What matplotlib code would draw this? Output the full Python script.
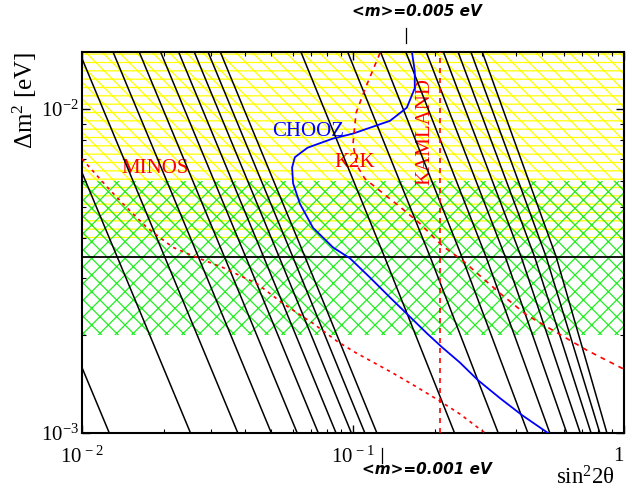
import matplotlib
matplotlib.use('Agg')
import matplotlib.pyplot as plt
from matplotlib.ticker import NullFormatter

plt.rcParams['font.family'] = ['Liberation Serif', 'DejaVu Serif']
plt.rcParams['mathtext.fontset'] = 'custom'
plt.rcParams['mathtext.rm'] = 'Liberation Serif'
plt.rcParams['mathtext.it'] = 'Liberation Serif:italic'
plt.rcParams['mathtext.bf'] = 'Liberation Serif:bold'
plt.rcParams['hatch.linewidth'] = 0.9

# iso-<m> lines (1e-4 ... 1e-3 eV, then 2e-3 ... 1e-2 eV),
# sin^2 2theta read where each line crosses the three dm2 levels
dm2_levels = [1.5e-2, 3.5e-3, 1.0e-3]
iso_s_top = [0.00326, 0.00652, 0.00977, 0.01302, 0.01626, 0.01950, 0.02273, 0.02596,
             0.02918, 0.03239, 0.06425, 0.09558, 0.12637, 0.15663, 0.18636, 0.21555,
             0.24421, 0.27234, 0.29993]
iso_s_mid = [0.00675, 0.01348, 0.02018, 0.02686, 0.03352, 0.04016, 0.04677, 0.05336,
             0.05993, 0.06647, 0.13066, 0.19255, 0.25217, 0.30950, 0.36453, 0.41729,
             0.46776, 0.51595, 0.56184]
iso_s_bot = [0.01261, 0.02514, 0.03759, 0.04996, 0.06225, 0.07446, 0.08658, 0.09863,
             0.11060, 0.12249, 0.23698, 0.34347, 0.44196, 0.53246, 0.61495, 0.68944,
             0.75593, 0.81442, 0.86491]

# CHOOZ exclusion contour
chooz_s = [0.165, 0.169, 0.169, 0.158, 0.137, 0.100, 0.084, 0.068, 0.061, 0.0596,
           0.0601, 0.0637, 0.0712, 0.0844, 0.0975, 0.1155, 0.137, 0.160, 0.1875,
           0.213, 0.248, 0.289, 0.349, 0.420, 0.524]
chooz_dm2 = [0.015, 0.0131, 0.0116, 0.0101, 0.0092, 0.0084, 0.0081, 0.0076, 0.0071,
             0.0066, 0.0059, 0.0051, 0.0043, 0.00374, 0.00346, 0.00302, 0.00262,
             0.00231, 0.00203, 0.00184, 0.00165, 0.001456, 0.00128, 0.001136, 0.001]

# K2K sensitivity
k2k_s = [0.1258, 0.1107, 0.1026, 0.100, 0.1035, 0.1107, 0.1258, 0.1491, 0.1767,
         0.2131, 0.2546, 0.2992, 0.3486, 0.4386, 0.547, 0.7302, 0.983, 1.0]
k2k_dm2 = [0.0149, 0.01152, 0.00972, 0.0078, 0.00668, 0.00609, 0.00559, 0.00499,
           0.00443, 0.00379, 0.00340, 0.00302, 0.0027, 0.00231, 0.002074, 0.0018,
           0.001585, 0.00158]

# MINOS sensitivity
minos_s = [0.010, 0.01247, 0.01417, 0.01738, 0.02167, 0.02657, 0.03314, 0.04423,
           0.05516, 0.0712, 0.0873, 0.1017, 0.1405, 0.1722, 0.2094, 0.2482, 0.307]
minos_dm2 = [0.00702, 0.00571, 0.0051, 0.0043, 0.00374, 0.00348, 0.00324, 0.00289,
             0.00251, 0.00218, 0.00192, 0.001775, 0.00153, 0.001385, 0.001254,
             0.001144, 0.001]

# KamLAND sensitivity (vertical)
kamland_s = 0.209

# allowed bands
atm_band = [2.0e-3, 6.0e-3]      # green
yellow_band = [4.0e-3, 2.0e-2]   # yellow
best_fit_dm2 = 3.5e-3

x_ticks = [0.01, 0.1, 1.0]
x_ticklabels = [r'$10^{\,-2}$', r'$10^{\,-1}$', '1']
y_ticks = [1e-3, 1e-2]
y_ticklabels = [r'$10^{-3}$', r'$10^{-2}$']

fig = plt.figure(figsize=(6.26, 4.94), dpi=100)
ax = fig.add_axes([0.131, 0.1235, 0.8658, 0.7712])
ax.set_xscale('log')
ax.set_yscale('log')
ax.set_xlim(0.01, 1.0)
ax.set_ylim(1e-3, 1.5e-2)

# hatched bands
ax.axhspan(yellow_band[0], yellow_band[1], facecolor='none', edgecolor='#ffff00',
           hatch='--\\\\', linewidth=0, zorder=1)
ax.axhspan(atm_band[0], atm_band[1], facecolor='none', edgecolor='#22ee22',
           hatch='xx', linewidth=0, zorder=2)
ax.axhline(best_fit_dm2, color='black', lw=1.3, zorder=3)

for st, sm, sb in zip(iso_s_top, iso_s_mid, iso_s_bot):
    ax.plot([st, sm, sb], dm2_levels, color='black', lw=1.1, zorder=4)

ax.plot(chooz_s, chooz_dm2, color='#0000ff', lw=1.3, zorder=5)
ax.plot(k2k_s, k2k_dm2, color='#ff0000', lw=1.2, ls=(0, (3, 3)), zorder=5)
ax.plot(minos_s, minos_dm2, color='#ff0000', lw=1.2, ls=(0, (2, 2.5)), zorder=5)
ax.axvline(kamland_s, color='#ff0000', lw=1.2, ls=(0, (3, 3)), zorder=5)

ax.text(0.0186, 0.00654, 'MINOS', color='#ff0000', fontsize=15, ha='center', va='center')
ax.text(0.0682, 0.00855, 'CHOOZ', color='#0000ff', fontsize=15, ha='center', va='center')
ax.text(0.1017, 0.00682, 'K2K', color='#ff0000', fontsize=15, ha='center', va='center')
ax.text(0.1844, 0.00855, 'KAMLAND', color='#ff0000', fontsize=15, ha='center',
        va='center', rotation=90)

# <m> markers outside the frame
ax.plot([0.157, 0.157], [1.024, 1.063], color='black', lw=0.9,
        transform=ax.get_xaxis_transform(), clip_on=False)
ax.plot([0.128, 0.128], [-0.039, -0.079], color='black', lw=0.9,
        transform=ax.get_xaxis_transform(), clip_on=False)
fig.text(0.666, 0.976, '<m>=0.005 eV', family='DejaVu Sans', fontweight='bold',
         fontstyle='italic', fontsize=11, ha='center', va='center')
fig.text(0.682, 0.0486, '<m>=0.001 eV', family='DejaVu Sans', fontweight='bold',
         fontstyle='italic', fontsize=11, ha='center', va='center')

ax.set_xticks(x_ticks, x_ticklabels)
ax.set_yticks(y_ticks, y_ticklabels)
ax.xaxis.set_minor_formatter(NullFormatter())
ax.yaxis.set_minor_formatter(NullFormatter())
ax.tick_params(which='both', direction='in', top=True, right=True, labelsize=15)
ax.tick_params(which='major', length=6, width=1)
ax.tick_params(which='minor', length=3, width=0.8)
ax.tick_params(axis='x', pad=10)
ax.tick_params(axis='y', pad=2)
ax.get_xticklabels()[-1].set_horizontalalignment('right')
for sp in ax.spines.values():
    sp.set_linewidth(1.5)

ax.set_xlabel('sin$^{2}$2θ', fontsize=16.5, loc='right')
ax.xaxis.set_label_coords(0.983, -0.087)
ax.set_ylabel('Δm$^{2}$ [eV]', fontsize=18, loc='top')
ax.yaxis.set_label_coords(-0.08, 1.0)

fig.savefig('out.png', dpi=100)
